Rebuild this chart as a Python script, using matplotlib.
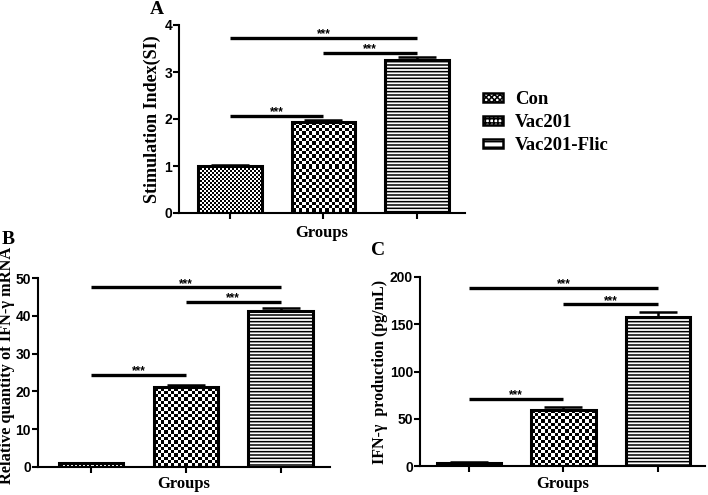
import numpy as np
import matplotlib
matplotlib.use("Agg")
import matplotlib.pyplot as plt
from matplotlib.patches import Patch

groups = ["Con", "Vac201", "Vac201-Flic"]

# A: stimulation index
si_mean = [1.0, 1.94, 3.26]
si_err = [0.02, 0.04, 0.05]
# B: relative IFN-gamma mRNA
mrna_mean = [1.0, 21.1, 41.2]
mrna_err = [0.1, 0.7, 0.8]
# C: IFN-gamma production
ifn_mean = [3.5, 59.3, 158.0]
ifn_err = [0.5, 2.7, 5.0]

# significance bars: (from group, to group, height)
si_sig = [(0, 2, 3.73), (1, 2, 3.41), (0, 1, 2.07)]
mrna_sig = [(0, 2, 47.5), (1, 2, 43.7), (0, 1, 24.3)]
ifn_sig = [(0, 2, 188.7), (1, 2, 171.0), (0, 1, 70.9)]

SERIF = ["Liberation Serif", "DejaVu Serif"]
SANS = ["Liberation Sans", "DejaVu Sans"]

plt.rcParams["font.family"] = SANS
plt.rcParams["font.weight"] = "bold"
plt.rcParams["hatch.linewidth"] = 1.1

W, H = 708, 495
fig = plt.figure(figsize=(W / 100, H / 100), dpi=100)


def texture(ax, bar, cell):
    # checkerboard fill at screen-pixel resolution, clipped to the bar
    x0, y0 = bar.get_x(), bar.get_y()
    x1, y1 = x0 + bar.get_width(), y0 + bar.get_height()
    (px0, py0), (px1, py1) = ax.transData.transform([(x0, y0), (x1, y1)])
    wp = max(int(round(px1 - px0)), 1)
    hp = max(int(round(py1 - py0)), 1)
    jj, ii = np.meshgrid(np.arange(wp), np.arange(hp))
    arr = ((ii // cell + jj // cell) % 2).astype(float)
    im = ax.imshow(arr, extent=(x0, x1, y0, y1), cmap="gray", vmin=0, vmax=1,
                   interpolation="nearest", aspect="auto", zorder=2)
    im.set_clip_path(bar)


def panel(rect, means, errs, sig, ymax, ystep, ylabel, ylab_size, xlim,
          ylab_x, ylab_y, xlab_y):
    ax = fig.add_axes(rect)
    ax.set_xlim(*xlim)
    ax.set_ylim(0, ymax)
    x = np.arange(len(groups))
    bars = ax.bar(x, means, width=0.68, facecolor="none", edgecolor="black",
                  linewidth=2.2, zorder=3)
    texture(ax, bars[0], 2)
    texture(ax, bars[1], 3.3)
    bars[2].set_hatch("-----")
    ax.errorbar(x, means, yerr=[np.zeros(len(x)), errs], fmt="none", ecolor="black",
                elinewidth=1.8, capsize=13.5, capthick=1.8, zorder=2.5)
    for i, j, y in sig:
        ax.plot([i, j], [y, y], color="black", lw=2.4, solid_capstyle="butt",
                clip_on=False, zorder=4)
        ax.annotate("***", xy=((i + j) / 2, y), xytext=(0, 0.5),
                    textcoords="offset points", ha="center", va="baseline",
                    fontsize=8.5, fontweight="bold", annotation_clip=False)
    ax.set_xlim(*xlim)
    ax.set_ylim(0, ymax)
    ax.set_xticks(x)
    ax.set_xticklabels([])
    ax.set_yticks(np.arange(0, ymax + ystep / 2, ystep))
    for s in ["top", "right"]:
        ax.spines[s].set_visible(False)
    for s in ["left", "bottom"]:
        ax.spines[s].set_linewidth(1.5)
    ax.tick_params(direction="out", length=4, width=1.5, labelsize=10, pad=1)
    ax.set_ylabel(ylabel, fontfamily=SERIF, fontweight="bold", fontsize=ylab_size)
    ax.yaxis.set_label_coords(ylab_x, ylab_y)
    ax.set_xlabel("Groups", fontfamily=SERIF, fontweight="bold", fontsize=12)
    ax.xaxis.set_label_coords(0.5, xlab_y)
    return ax


panel([179 / W, (H - 213) / H, (465 - 179) / W, 188 / H], si_mean, si_err, si_sig,
      4, 1, "Stimulation Index(SI)", 13, (-0.54, 2.51), -0.063, 0.5, -0.062)
panel([38 / W, (H - 467) / H, 292 / W, 189 / H], mrna_mean, mrna_err, mrna_sig,
      50, 10, "Relative quantity of IFN-γ mRNA", 11.8, (-0.56, 2.52), -0.079, 0.54, -0.046)
panel([420 / W, (H - 466) / H, 285 / W, 189 / H], ifn_mean, ifn_err, ifn_sig,
      200, 50, "IFN-γ  production (pg/mL)", 11.5, (-0.52, 2.5), -0.112, 0.5, -0.051)

for letter, px, py in [("A", 157, 10), ("B", 8, 239), ("C", 378, 250)]:
    fig.text(px / W, 1 - py / H, letter, ha="center", va="center",
             fontsize=14, fontweight="bold", fontfamily=SERIF)

handles = [
    Patch(facecolor="white", edgecolor="black", lw=1.8, hatch="xxxxxx"),
    Patch(facecolor="white", edgecolor="black", lw=1.8, hatch="++++"),
    Patch(facecolor="white", edgecolor="black", lw=1.8, hatch="---"),
]
fig.legend(handles, groups, loc="upper left", bbox_to_anchor=(483 / W, 1 - 91 / H),
           frameon=False, borderpad=0, borderaxespad=0, handlelength=1.07,
           handleheight=0.4, handletextpad=0.64, labelspacing=0.32,
           prop=dict(family=SERIF, weight="bold", size=13.5))

fig.savefig("out.png", dpi=100)
